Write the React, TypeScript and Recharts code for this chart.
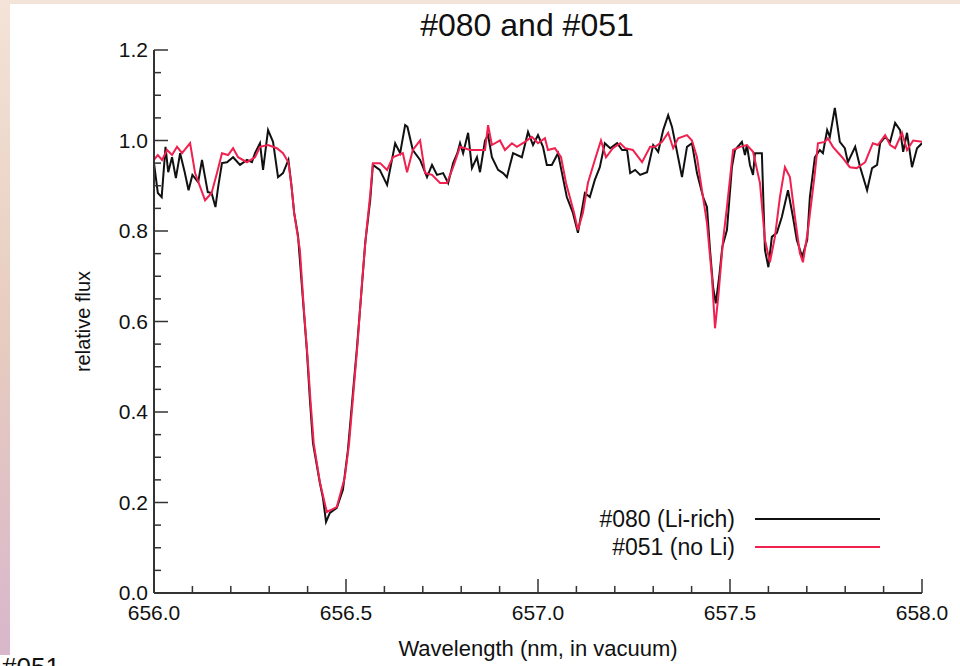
import React from 'react'
import { LineChart, Line, XAxis, YAxis, Legend, Label } from 'recharts'

const xMajor = [656.0, 656.5, 657.0, 657.5, 658.0]
const xTicks = [
  656.0, 656.1, 656.2, 656.3, 656.4, 656.5, 656.6, 656.7, 656.8, 656.9, 657.0,
  657.1, 657.2, 657.3, 657.4, 657.5, 657.6, 657.7, 657.8, 657.9, 658.0,
]
const yMajor = [0, 0.2, 0.4, 0.6, 0.8, 1.0, 1.2]
const yTicks = [
  0, 0.05, 0.1, 0.15, 0.2, 0.25, 0.3, 0.35, 0.4, 0.45, 0.5, 0.55, 0.6,
  0.65, 0.7, 0.75, 0.8, 0.85, 0.9, 0.95, 1.0, 1.05, 1.1, 1.15, 1.2,
]
const legendOrder = ['#080 (Li-rich)', '#051 (no Li)']

// #080 (Li-rich)
const wave080 = [
  656.000, 656.010, 656.020, 656.030, 656.037, 656.047, 656.057, 656.068, 656.080, 656.090,
  656.100, 656.115, 656.125, 656.133, 656.140, 656.150, 656.160, 656.167, 656.177, 656.190,
  656.206, 656.224, 656.242, 656.255, 656.263, 656.276, 656.284, 656.297, 656.310, 656.323,
  656.336, 656.350, 656.358, 656.365, 656.375, 656.388, 656.398, 656.406, 656.414, 656.432,
  656.440, 656.448, 656.458, 656.476, 656.492, 656.505, 656.518, 656.528, 656.542, 656.550,
  656.563, 656.570, 656.588, 656.607, 656.628, 656.641, 656.654, 656.660, 656.674, 656.693,
  656.711, 656.724, 656.737, 656.753, 656.766, 656.779, 656.790, 656.797, 656.805, 656.818,
  656.828, 656.841, 656.849, 656.862, 656.870, 656.880, 656.896, 656.909, 656.919, 656.935,
  656.958, 656.974, 656.987, 657.000, 657.013, 657.023, 657.036, 657.052, 657.075, 657.091,
  657.104, 657.122, 657.135, 657.148, 657.161, 657.174, 657.188, 657.206, 657.219, 657.232,
  657.240, 657.253, 657.266, 657.284, 657.300, 657.313, 657.326, 657.339, 657.349, 657.362,
  657.375, 657.388, 657.401, 657.414, 657.430, 657.440, 657.448, 657.456, 657.463, 657.472,
  657.480, 657.492, 657.505, 657.513, 657.531, 657.539, 657.544, 657.552, 657.560, 657.565,
  657.583, 657.591, 657.600, 657.609, 657.622, 657.635, 657.651, 657.664, 657.674, 657.688,
  657.701, 657.708, 657.721, 657.734, 657.742, 657.753, 657.760, 657.773, 657.786, 657.799,
  657.807, 657.826, 657.839, 657.857, 657.870, 657.883, 657.891, 657.904, 657.917, 657.930,
  657.943, 657.951, 657.961, 657.974, 657.987, 658.000,
]
const flux080 = [
  0.950, 0.884, 0.875, 0.986, 0.930, 0.963, 0.917, 0.972, 0.930, 0.890,
  0.924, 0.908, 0.957, 0.919, 0.886, 0.884, 0.853, 0.897, 0.950, 0.952,
  0.963, 0.946, 0.957, 0.952, 0.972, 0.994, 0.935, 1.023, 0.997, 0.919,
  0.928, 0.957, 0.900, 0.840, 0.790, 0.647, 0.537, 0.427, 0.331, 0.243,
  0.210, 0.157, 0.177, 0.188, 0.228, 0.316, 0.442, 0.537, 0.685, 0.773,
  0.868, 0.946, 0.935, 0.902, 0.994, 0.972, 1.034, 1.030, 0.979, 0.957,
  0.919, 0.946, 0.924, 0.928, 0.906, 0.950, 0.972, 0.994, 0.972, 1.017,
  0.939, 0.963, 0.930, 1.000, 1.012, 0.963, 0.935, 0.928, 0.919, 0.972,
  0.963, 1.019, 0.990, 1.012, 0.986, 0.946, 0.946, 0.972, 0.875, 0.840,
  0.796, 0.884, 0.875, 0.913, 0.941, 0.994, 0.983, 0.994, 0.979, 0.979,
  0.928, 0.935, 0.924, 0.930, 0.990, 0.975, 1.023, 1.056, 1.030, 0.975,
  0.919, 0.986, 0.994, 0.928, 0.875, 0.853, 0.758, 0.676, 0.640, 0.700,
  0.765, 0.802, 0.941, 0.979, 0.997, 0.968, 0.990, 0.946, 0.924, 0.972,
  0.972, 0.758, 0.720, 0.787, 0.796, 0.831, 0.890, 0.831, 0.780, 0.743,
  0.780, 0.875, 0.963, 0.979, 0.972, 1.023, 1.008, 1.072, 0.997, 0.983,
  0.952, 0.986, 0.941, 0.890, 0.939, 0.946, 0.994, 1.008, 0.997, 1.039,
  1.023, 0.975, 1.017, 0.941, 0.983, 0.994,
]

// #051 (no Li)
const wave051 = [
  656.000, 656.010, 656.021, 656.034, 656.047, 656.060, 656.073, 656.094, 656.107, 656.133,
  656.150, 656.164, 656.177, 656.193, 656.206, 656.219, 656.242, 656.263, 656.276, 656.297,
  656.320, 656.336, 656.350, 656.358, 656.365, 656.380, 656.390, 656.400, 656.408, 656.416,
  656.432, 656.450, 656.476, 656.497, 656.508, 656.520, 656.530, 656.542, 656.552, 656.563,
  656.570, 656.589, 656.607, 656.622, 656.648, 656.659, 656.674, 656.693, 656.706, 656.724,
  656.745, 656.763, 656.779, 656.797, 656.823, 656.849, 656.862, 656.870, 656.880, 656.901,
  656.914, 656.932, 656.945, 656.966, 656.984, 657.000, 657.018, 657.026, 657.044, 657.060,
  657.073, 657.094, 657.104, 657.117, 657.130, 657.148, 657.164, 657.177, 657.195, 657.214,
  657.227, 657.247, 657.271, 657.292, 657.305, 657.323, 657.339, 657.352, 657.365, 657.388,
  657.401, 657.414, 657.427, 657.440, 657.453, 657.461, 657.470, 657.482, 657.492, 657.508,
  657.526, 657.544, 657.560, 657.578, 657.591, 657.604, 657.617, 657.630, 657.643, 657.656,
  657.669, 657.682, 657.690, 657.703, 657.721, 657.729, 657.747, 657.755, 657.768, 657.792,
  657.812, 657.830, 657.852, 657.872, 657.885, 657.904, 657.917, 657.930, 657.948, 657.961,
  657.977, 658.000,
]
const flux051 = [
  0.957, 0.968, 0.957, 0.979, 0.968, 0.986, 0.972, 0.994, 0.928, 0.868,
  0.884, 0.928, 0.972, 0.968, 0.983, 0.963, 0.952, 0.963, 0.986, 0.990,
  0.983, 0.972, 0.952, 0.900, 0.840, 0.758, 0.630, 0.520, 0.420, 0.330,
  0.245, 0.179, 0.190, 0.256, 0.330, 0.450, 0.550, 0.690, 0.790, 0.880,
  0.950, 0.950, 0.935, 0.963, 0.972, 0.930, 0.979, 1.000, 0.928, 0.924,
  0.906, 0.906, 0.941, 0.986, 0.979, 0.979, 0.979, 1.034, 0.990, 1.000,
  0.979, 0.994, 0.986, 0.997, 1.008, 0.994, 1.005, 0.979, 0.983, 0.963,
  0.906, 0.840, 0.802, 0.840, 0.906, 0.957, 1.000, 0.963, 0.983, 0.994,
  0.983, 0.979, 0.952, 0.986, 0.986, 0.997, 1.017, 0.983, 1.005, 1.012,
  1.000, 0.963, 0.890, 0.818, 0.698, 0.585, 0.660, 0.780, 0.853, 0.979,
  0.986, 0.990, 0.975, 0.906, 0.780, 0.731, 0.787, 0.875, 0.941, 0.919,
  0.831, 0.751, 0.731, 0.802, 0.928, 0.994, 0.997, 1.005, 0.986, 0.963,
  0.941, 0.939, 0.952, 0.994, 0.990, 1.012, 0.990, 0.983, 1.017, 0.979,
  1.000, 0.997,
]

const spec080 = wave080.map((wl, i) => ({ wl, flux: flux080[i] }))
const spec051 = wave051.map((wl, i) => ({ wl, flux: flux051[i] }))

const FONT = '"Liberation Sans", Arial, sans-serif'
const AXIS = '#333'
const RED = '#f0204f'

// chart box, follows from the margins and axis sizes below
const W = 960
const H = 666
const M = { top: 50, right: 38, left: 12, bottom: 0 }
const Y_AXIS_W = 142
const X_AXIS_H = 73
const PLOT = { left: M.left + Y_AXIS_W, right: W - M.right, top: M.top, bottom: H - M.bottom - X_AXIS_H }

const BottomTick = ({ x, payload }: any) => {
  const major = xMajor.includes(payload.value)
  const y = PLOT.bottom
  return (
    <g>
      <line x1={x} x2={x} y1={y} y2={y - (major ? 14 : 7)} stroke={AXIS} strokeWidth={1.5} />
      {major && (
        <text x={x} y={y + 27} textAnchor="middle" fontSize={21} fontFamily={FONT} fill="#111">
          {payload.value.toFixed(1)}
        </text>
      )}
    </g>
  )
}

const TopTick = ({ x, payload }: any) => {
  const major = xMajor.includes(payload.value)
  const y = PLOT.top
  return <line x1={x} x2={x} y1={y} y2={y + (major ? 14 : 7)} stroke={AXIS} strokeWidth={1.5} />
}

const LeftTick = ({ y, payload }: any) => {
  const major = yMajor.includes(payload.value)
  const x = PLOT.left
  return (
    <g>
      <line x1={x} x2={x + (major ? 14 : 7)} y1={y} y2={y} stroke={AXIS} strokeWidth={1.5} />
      {major && (
        <text x={x - 6} y={y + 7} textAnchor="end" fontSize={21} fontFamily={FONT} fill="#111">
          {payload.value.toFixed(1)}
        </text>
      )}
    </g>
  )
}

const RightTick = ({ y, payload }: any) => {
  const major = yMajor.includes(payload.value)
  const x = PLOT.right
  return <line x1={x} x2={x - (major ? 14 : 7)} y1={y} y2={y} stroke={AXIS} strokeWidth={1.5} />
}

const LegendBox = ({ payload }: any) => {
  const items = [...(payload || [])].sort((a: any, b: any) => legendOrder.indexOf(a.value) - legendOrder.indexOf(b.value))
  return (
    <div style={{ fontFamily: FONT, fontSize: 23, color: '#111' }}>
      {items.map((p: any) => (
        <div key={p.value} style={{ display: 'flex', alignItems: 'center', justifyContent: 'flex-end', height: 28 }}>
          <span>{p.value}</span>
          <span style={{ display: 'inline-block', width: 125, height: 2, background: p.color, marginLeft: 20 }} />
        </div>
      ))}
    </div>
  )
}

export default function App() {
  return (
    <div style={{ position: 'absolute', left: 0, top: 0, width: W, height: H, overflow: 'hidden',
      background: 'linear-gradient(180deg, #f4e3d8 0%, #e7ccbf 50%, #d8b6cc 100%)' }}>
      <div style={{ position: 'absolute', left: 10, top: 4, width: 950, height: 651, background: '#fff' }} />
      <div style={{ position: 'absolute', left: 0, top: 655, width: 960, height: 11, background: '#fff' }} />
      <div style={{ position: 'absolute', left: 2, top: 652, fontFamily: FONT, fontSize: 26, color: '#111' }}>#051</div>
      <div style={{ position: 'absolute', left: 327, width: 400, top: 7, textAlign: 'center', fontFamily: FONT, fontSize: 32, color: '#111' }}>
        #080 and #051
      </div>
      <div style={{ position: 'absolute', left: 0, top: 0 }}>
        <LineChart width={W} height={H} margin={M}>
          <XAxis type="number" dataKey="wl" domain={[656, 658]} allowDataOverflow ticks={xTicks} interval={0}
            tickLine={false} tick={<BottomTick />} height={X_AXIS_H}
            axisLine={{ stroke: AXIS, strokeWidth: 2 }}>
            <Label value="Wavelength (nm, in vacuum)" position="insideBottom" offset={10} fontSize={22} fontFamily={FONT} fill="#111" />
          </XAxis>
          <XAxis xAxisId="top" orientation="top" type="number" dataKey="wl" domain={[656, 658]} allowDataOverflow
            ticks={xTicks} interval={0} tickLine={false} tick={<TopTick />} height={0}
            axisLine={{ stroke: AXIS, strokeWidth: 2 }} />
          <YAxis type="number" domain={[0, 1.2]} allowDataOverflow ticks={yTicks} interval={0} width={Y_AXIS_W}
            tickLine={false} tick={<LeftTick />} axisLine={{ stroke: AXIS, strokeWidth: 2 }}>
            <Label value="relative flux" angle={-90} position="center" fontSize={20} fontFamily={FONT} fill="#111" />
          </YAxis>
          <YAxis yAxisId="right" orientation="right" type="number" domain={[0, 1.2]} allowDataOverflow ticks={yTicks}
            interval={0} width={0} tickLine={false} tick={<RightTick />}
            axisLine={{ stroke: AXIS, strokeWidth: 2 }} />
          <Legend layout="vertical" align="center" verticalAlign="middle" content={<LegendBox />}
            wrapperStyle={{ left: 540, top: 505, width: 340 }} />
          <Line data={spec080} dataKey="flux" name="#080 (Li-rich)" stroke="#111" strokeWidth={2} dot={false}
            type="linear" isAnimationActive={false} />
          <Line data={spec051} dataKey="flux" name="#051 (no Li)" stroke={RED} strokeWidth={2} dot={false}
            type="linear" isAnimationActive={false} />
        </LineChart>
      </div>
    </div>
  )
}
